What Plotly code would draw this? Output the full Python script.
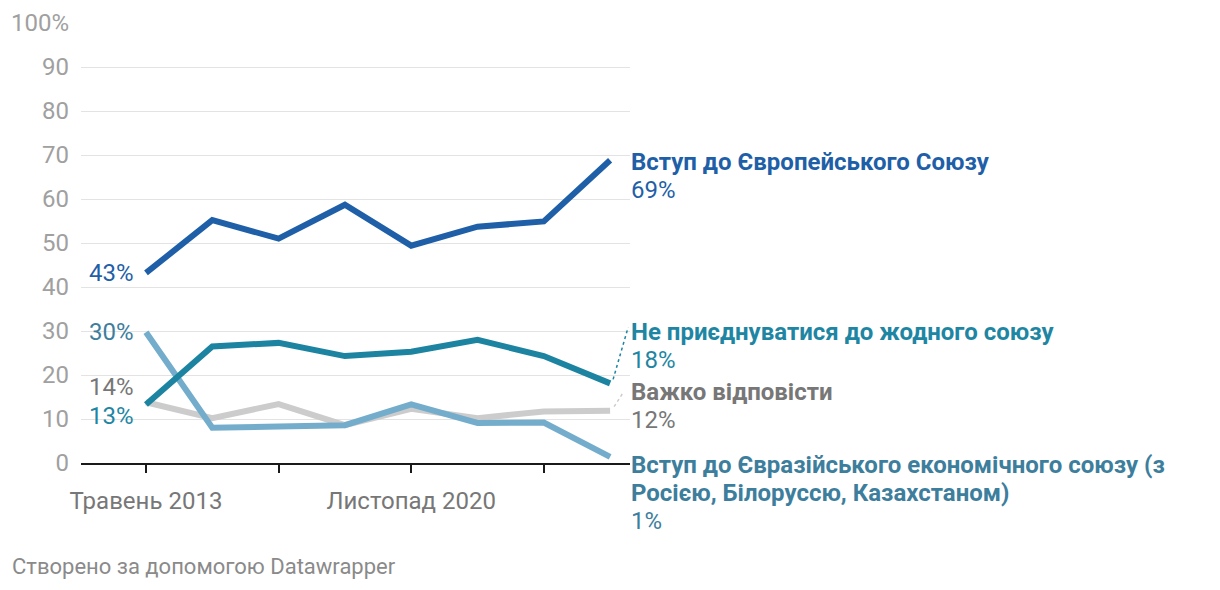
import plotly.graph_objects as go

# ---- data ----
wave_idx = [0, 1, 2, 3, 4, 5, 6, 7]
tick_idx = [0, 2, 4, 6]
tick_text = ["Травень 2013", "", "Листопад 2020", ""]

eu = [43.2, 55.2, 51.0, 58.7, 49.4, 53.7, 54.9, 68.8]
none_union = [13.3, 26.5, 27.3, 24.3, 25.3, 28.0, 24.3, 18.1]
hard = [13.8, 10.2, 13.4, 8.6, 12.3, 10.2, 11.7, 11.9]
eurasian = [29.7, 8.0, 8.3, 8.6, 13.3, 9.1, 9.2, 1.4]

name_eu = ["Вступ до Європейського Союзу"]
name_none = ["Не приєднуватися до жодного союзу"]
name_hard = ["Важко відповісти"]
name_eur = ["Вступ до Євразійського економічного союзу (з", "Росією, Білоруссю, Казахстаном)"]
first_lbl = {"eu": "43%", "eur": "30%", "hard": "14%", "none": "13%"}
last_lbl = {"eu": "69%", "none": "18%", "hard": "12%", "eur": "1%"}

C_EU = "#1f5fa8"
C_NONE = "#1c84a1"
C_NONE_T = "#1e86a3"
C_HARD = "#cccccc"
C_HARD_T = "#777777"
C_EUR = "#74adcc"
C_EUR_T = "#3d7e9d"

FONT = "Roboto"
FS = 24

fig = go.Figure()
for ys, col in [(hard, C_HARD), (eurasian, C_EUR), (none_union, C_NONE), (eu, C_EU)]:
    fig.add_trace(go.Scatter(x=wave_idx, y=ys, mode="lines",
                             line=dict(color=col, width=6),
                             hoverinfo="skip", showlegend=False, cliponaxis=False))

ann = []


def left(text, y, col, yshift=0):
    ann.append(dict(x=wave_idx[0], y=y, xref="x", yref="y", text=text, showarrow=False,
                    xanchor="right", yanchor="middle", xshift=-10, yshift=yshift,
                    font=dict(family=FONT, size=FS, color=col)))


left(first_lbl["eu"], eu[0], C_EU)
left(first_lbl["eur"], eurasian[0], C_EUR_T)
left(first_lbl["hard"], hard[0], C_HARD_T, yshift=15)
left(first_lbl["none"], none_union[0], C_NONE_T, yshift=-12)


def right(lines, val, y, col, yshift):
    rows = ["<b>%s</b>" % l for l in lines] + [val]
    for i, t in enumerate(rows):
        ann.append(dict(x=wave_idx[-1], y=y, xref="x", yref="y", text=t,
                        showarrow=False, xanchor="left", yanchor="middle", align="left",
                        xshift=19, yshift=yshift - i * 28,
                        font=dict(family=FONT, size=FS, color=col)))


right(name_eu, last_lbl["eu"], eu[-1], C_EU, -2)
right(name_none, last_lbl["none"], none_union[-1], C_NONE_T, 51)
right(name_hard, last_lbl["hard"], hard[-1], C_HARD_T, 19)
right(name_eur, last_lbl["eur"], eurasian[-1], C_EUR_T, -8)

# footer
ann.append(dict(x=0, y=0, xref="paper", yref="paper", text="Створено за допомогою Datawrapper",
                showarrow=False, xanchor="left", yanchor="middle", xshift=-71, yshift=-103,
                font=dict(family=FONT, size=22, color="#8a8a8a")))

px_x = 66.3  # px per x unit
px_y = 4.4   # px per y unit
shapes = [
    dict(type="line", xref="x", yref="y",
         x0=wave_idx[-1] + 3 / px_x, y0=none_union[-1] + 4 / px_y,
         x1=wave_idx[-1] + 18 / px_x, y1=none_union[-1] + 56 / px_y,
         line=dict(color=C_NONE, width=1.5, dash="dot")),
    dict(type="line", xref="x", yref="y",
         x0=wave_idx[-1] + 4 / px_x, y0=hard[-1] + 4 / px_y,
         x1=wave_idx[-1] + 13 / px_x, y1=hard[-1] + 18 / px_y,
         line=dict(color=C_HARD, width=1.5, dash="dot")),
]

fig.update_layout(
    width=1220, height=590,
    margin=dict(l=73, r=598, t=15, b=135, pad=0, autoexpand=False),
    paper_bgcolor="white", plot_bgcolor="white",
    font=dict(family=FONT),
    annotations=ann, shapes=shapes,
    xaxis=dict(range=[-0.98, 7.3], tickmode="array", tickvals=tick_idx, ticktext=tick_text,
               showgrid=False, zeroline=False, showline=True, linecolor="#1a1a1a", linewidth=2,
               ticks="outside", ticklen=8, tickwidth=2, tickcolor="#1a1a1a", ticklabelstandoff=7,
               automargin=False,
               tickfont=dict(family=FONT, size=FS, color="#777777"), fixedrange=True),
    yaxis=dict(range=[0, 100], tickmode="array", tickvals=list(range(0, 101, 10)),
               ticktext=[str(v) for v in range(0, 100, 10)] + ["100%"],
               showgrid=True, gridcolor="#e3e3e3", gridwidth=1, zeroline=False,
               showline=False, ticks="", ticklabelstandoff=11, automargin=False,
               tickfont=dict(family=FONT, size=FS, color="#a0a0a0"), fixedrange=True),
)

fig.write_html("out.html")
